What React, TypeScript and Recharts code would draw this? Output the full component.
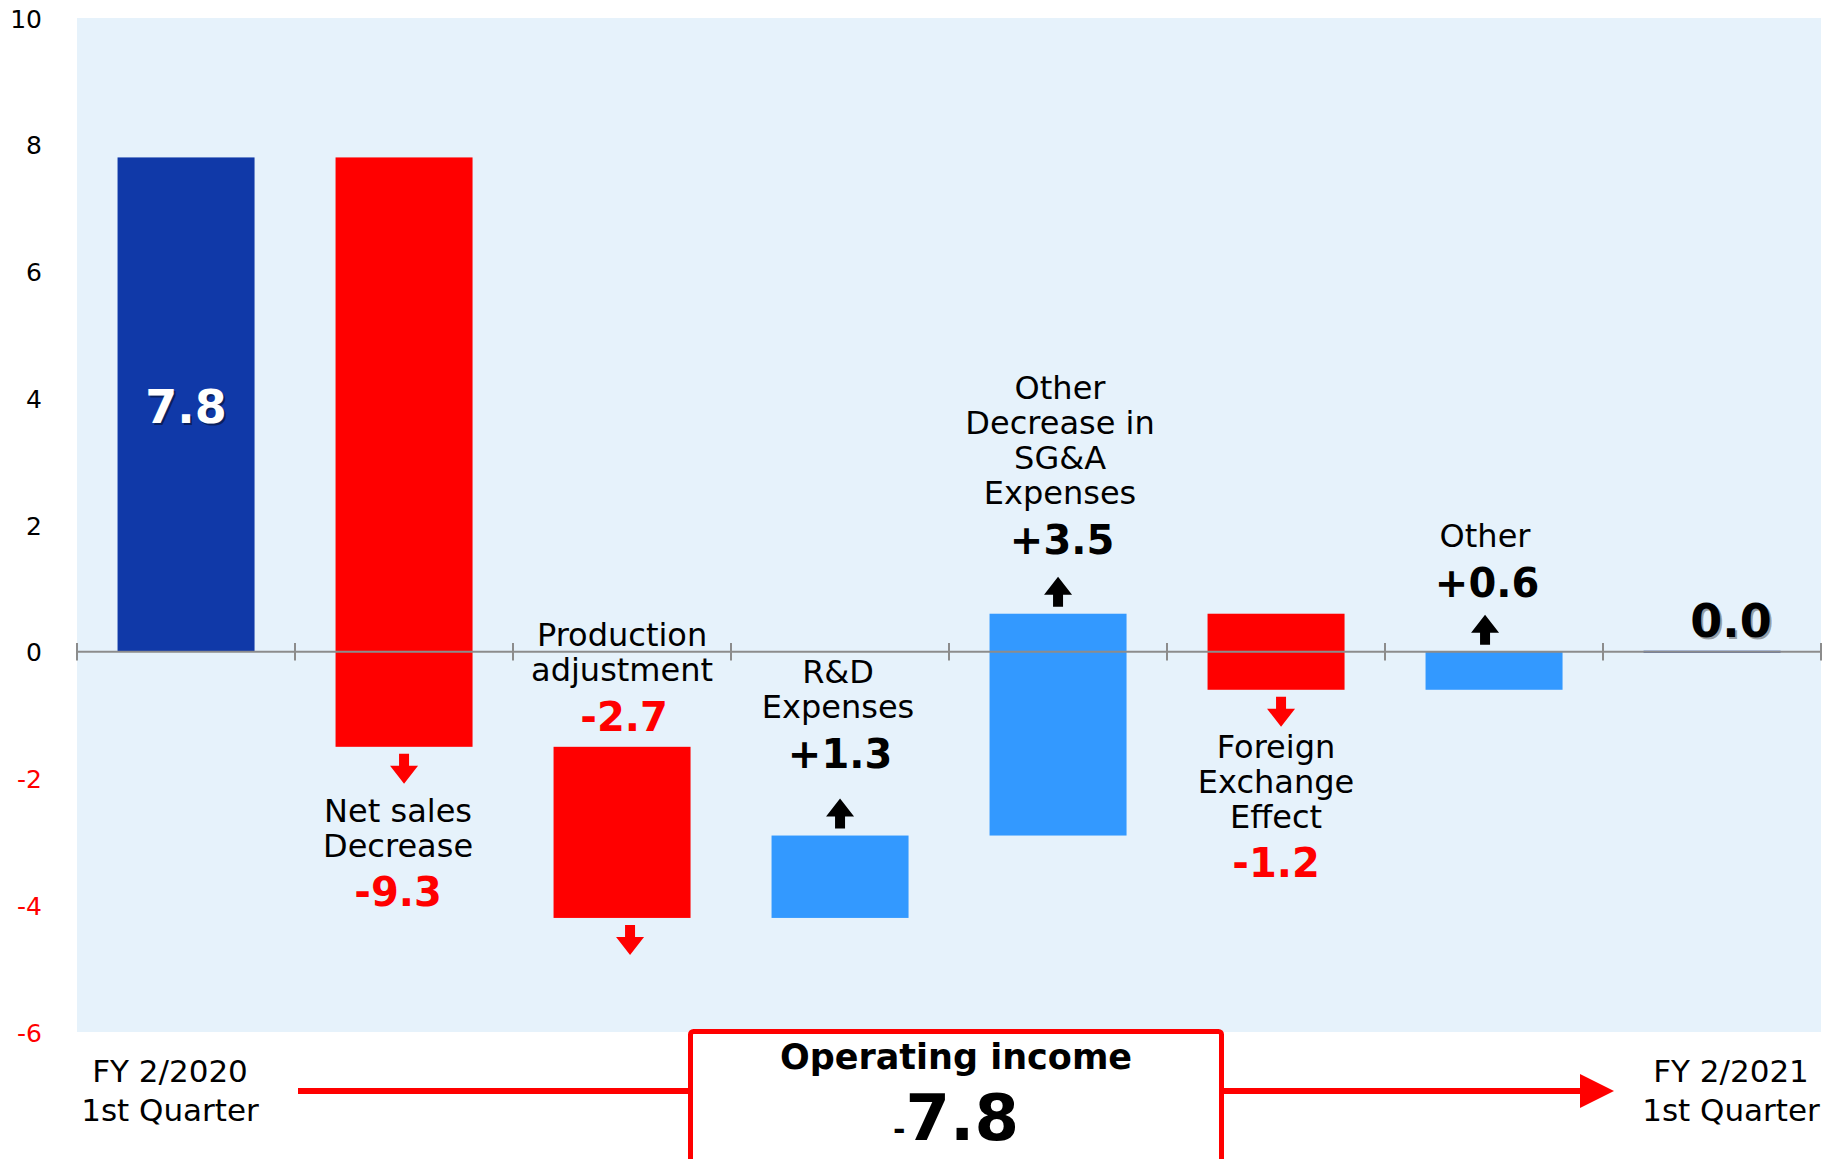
import {
  Bar,
  BarChart,
  CartesianGrid,
  Cell,
  LabelList,
  ReferenceLine,
  XAxis,
  YAxis,
} from "recharts";

// Chart data (billions of yen)
const categories = [
  "FY 2/2020 1st Quarter",
  "Net sales Decrease",
  "Production adjustment",
  "R&D Expenses",
  "Other Decrease in SG&A Expenses",
  "Foreign Exchange Effect",
  "Other",
  "FY 2/2021 1st Quarter",
];
const startValue = 7.8;
const changes = [-9.3, -2.7, 1.3, 3.5, -1.2, 0.6];
const endValue = 0.0;
const yTicks = [-6, -4, -2, 0, 2, 4, 6, 8, 10];

const labelLines = [
  [],
  ["Net sales", "Decrease"],
  ["Production", "adjustment"],
  ["R&D", "Expenses"],
  ["Other", "Decrease in", "SG&A", "Expenses"],
  ["Foreign", "Exchange", "Effect"],
  ["Other"],
  [],
];
const valueTexts = ["7.8", "-9.3", "-2.7", "+1.3", "+3.5", "-1.2", "+0.6", "0.0"];
const periodLabels = [
  ["FY 2/2020", "1st Quarter"],
  ["FY 2/2021", "1st Quarter"],
];

// Placement of the annotations (style only)
const textSide = ["", "below", "above", "above", "above", "below", "above", ""];
const arrowSide = ["", "below", "below", "above", "above", "below", "above", ""];
const textGap = [0, 64, 30, 82, 74, 57, 69, 0];
const labelDx = [0, -6, 0, -2, 2, 0, -9, 0];
const arrowDx = [0, 0, 8, 0, 0, 5, -9, 0];

const FONT = "'DejaVu Sans', Verdana, sans-serif";
const DARK_BLUE = "#1039A8";
const RED = "#FF0000";
const LIGHT_BLUE = "#3399FF";

// waterfall rows: each bar spans [low, high]
let running = startValue;
const chartData = categories.map((name, i) => {
  if (i === 0) return { name, range: [0, startValue], kind: "total" };
  if (i === categories.length - 1) return { name, range: [0, endValue], kind: "total" };
  const from = running;
  const to = running + changes[i - 1];
  running = to;
  return {
    name,
    range: [Math.min(from, to), Math.max(from, to)],
    kind: to < from ? "down" : "up",
  };
});

const colorOf = (kind: string) =>
  kind === "total" ? DARK_BLUE : kind === "down" ? RED : LIGHT_BLUE;

function Arrow({ cx, from, to, color }: { cx: number; from: number; to: number; color: string }) {
  // from = tail, to = tip
  const dir = to > from ? 1 : -1;
  const headH = 18;
  const headW = 14;
  const shaft = 5;
  const neck = to - dir * headH;
  const pts = [
    [cx - shaft, from],
    [cx + shaft, from],
    [cx + shaft, neck],
    [cx + headW, neck],
    [cx, to],
    [cx - headW, neck],
    [cx - shaft, neck],
  ]
    .map((p) => p.join(","))
    .join(" ");
  return <polygon points={pts} fill={color} />;
}

function renderAnnotation(props: any) {
  const vb = props.viewBox ?? props;
  const x = Number(vb.x ?? props.x);
  const y = Number(vb.y ?? props.y);
  const width = Number(vb.width ?? props.width);
  const height = Number(vb.height ?? props.height);
  const index = categories.indexOf(props.value);
  if (index < 0 || Number.isNaN(x)) return null;
  const cx = x + width / 2;
  const top = Math.min(y, y + height);
  const bottom = Math.max(y, y + height);
  const valueText = valueTexts[index];

  if (index === 0) {
    const cy = (top + bottom) / 2;
    return (
      <g fontFamily={FONT} fontWeight="bold" fontSize={46} textAnchor="middle" dominantBaseline="central">
        <text x={cx + 2} y={cy + 4} fill="rgba(0,0,0,0.45)">{valueText}</text>
        <text x={cx} y={cy + 2} fill="#FFFFFF">{valueText}</text>
      </g>
    );
  }
  if (index === categories.length - 1) {
    return (
      <g fontFamily={FONT} fontWeight="bold" fontSize={46} textAnchor="middle" dominantBaseline="central">
        <text x={cx + 21} y={top - 29} fill="rgba(0,0,0,0.35)">{valueText}</text>
        <text x={cx + 19} y={top - 31} fill="#000000">{valueText}</text>
      </g>
    );
  }

  const lines = labelLines[index];
  const negative = valueText.startsWith("-");
  const valueColor = negative ? RED : "#000000";
  const arrowColor = negative ? RED : "#000000";
  const tx = cx + labelDx[index];
  const ax = cx + arrowDx[index];
  const gap = textGap[index];
  const elems: any[] = [];

  if (arrowSide[index] === "below") {
    elems.push(<Arrow key="arr" cx={ax} from={bottom + 7} to={bottom + 37} color={arrowColor} />);
  } else {
    elems.push(<Arrow key="arr" cx={ax} from={top - 7} to={top - 37} color={arrowColor} />);
  }

  if (textSide[index] === "below") {
    lines.forEach((ln, k) => {
      elems.push(
        <text key={"l" + k} x={tx} y={bottom + gap + k * 35} fontSize={32} fill="#000" textAnchor="middle" dominantBaseline="central">
          {ln}
        </text>
      );
    });
    elems.push(
      <text key="v" x={tx} y={bottom + gap + (lines.length - 1) * 35 + 46} fontSize={40} fontWeight="bold" fill={valueColor} textAnchor="middle" dominantBaseline="central">
        {valueText}
      </text>
    );
  } else {
    const valueY = top - gap;
    elems.push(
      <text key="v" x={tx + 2} y={valueY} fontSize={40} fontWeight="bold" fill={valueColor} textAnchor="middle" dominantBaseline="central">
        {valueText}
      </text>
    );
    lines.forEach((ln, k) => {
      elems.push(
        <text key={"l" + k} x={tx} y={valueY - 47 - (lines.length - 1 - k) * 35} fontSize={32} fill="#000" textAnchor="middle" dominantBaseline="central">
          {ln}
        </text>
      );
    });
  }
  return <g fontFamily={FONT}>{elems}</g>;
}

function WaterfallBar(props: any) {
  const { x, y, width, height, fill } = props;
  const top = Math.min(y, y + height);
  const h = Math.max(Math.abs(height), 2);
  return <rect x={x} y={height === 0 ? y - 1 : top} width={width} height={h} fill={fill} />;
}

function renderYTick(p: any) {
  const v = p.payload.value;
  return (
    <text x={p.x} y={p.y + 1} textAnchor="end" dominantBaseline="central" fontSize={25} fontFamily={FONT} fill={v < 0 ? RED : "#000000"}>
      {v}
    </text>
  );
}

function renderXTick(p: any) {
  const i = p.index;
  const which = i === 0 ? 0 : i === categories.length - 1 ? 1 : -1;
  if (which < 0) return <g />;
  const dx = which === 0 ? -16 : 19;
  return (
    <g fontFamily={FONT} fontSize={31} fill="#000" textAnchor="middle">
      {periodLabels[which].map((ln, k) => (
        <text key={k} x={p.x + dx} y={p.y + 39 + k * 39} dominantBaseline="central">
          {ln}
        </text>
      ))}
    </g>
  );
}

const operatingIncomeChange = (endValue - startValue).toFixed(1);

export default function App() {
  return (
    <div style={{ position: "absolute", left: 0, top: 0, width: 1834, height: 1159, overflow: "hidden", background: "#fff", fontFamily: FONT }}>
      <BarChart
        width={1834}
        height={1159}
        data={chartData}
        margin={{ top: 18, right: 13, bottom: 0, left: 0 }}
        barCategoryGap="18.6%"
      >
        <CartesianGrid horizontal={false} vertical={false} fill="#E6F2FB" stroke="none" />
        <XAxis
          dataKey="name"
          height={127}
          axisLine={false}
          tickLine={false}
          tickSize={0}
          tickMargin={0}
          interval={0}
          tick={renderXTick}
        />
        <YAxis
          domain={[-6, 10]}
          ticks={yTicks}
          width={77}
          axisLine={false}
          tickLine={false}
          tickSize={0}
          tickMargin={35}
          interval={0}
          tick={renderYTick}
        />
        <ReferenceLine y={0} stroke="#8C8C8C" strokeWidth={2} />
        {categories.map((c) => (
          <ReferenceLine
            key={"t-" + c}
            segment={[{ x: c, y: -0.14 }, { x: c, y: 0.14 }]}
            position="start"
            stroke="#8C8C8C"
            strokeWidth={2}
          />
        ))}
        <ReferenceLine
          segment={[
            { x: categories[categories.length - 1], y: -0.14 },
            { x: categories[categories.length - 1], y: 0.14 },
          ]}
          position="end"
          stroke="#8C8C8C"
          strokeWidth={2}
        />
        <Bar dataKey="range" isAnimationActive={false} shape={WaterfallBar}>
          {chartData.map((d) => (
            <Cell key={d.name} fill={colorOf(d.kind)} />
          ))}
          <LabelList dataKey="name" content={renderAnnotation} />
        </Bar>
      </BarChart>
      <svg width={1834} height={1159} style={{ position: "absolute", left: 0, top: 0, pointerEvents: "none" }}>
        <line x1={298} y1={1091} x2={692} y2={1091} stroke={RED} strokeWidth={6} />
        <line x1={1220} y1={1091} x2={1582} y2={1091} stroke={RED} strokeWidth={6} />
        <polygon points="1580,1074 1614,1091 1580,1108" fill={RED} />
        <rect x={690.5} y={1031.5} width={531} height={200} rx={3} fill="#FFFFFF" stroke={RED} strokeWidth={5} />
        <text x={956} y={1057} textAnchor="middle" dominantBaseline="central" fontFamily={FONT} fontWeight="bold" fontSize={35} fill="#000">
          Operating income
        </text>
        <text x={956} y={1140} textAnchor="middle" fontFamily={FONT} fontWeight="bold" fill="#000">
          <tspan fontSize={30}>{operatingIncomeChange.slice(0, 1)}</tspan>
          <tspan fontSize={64}>{operatingIncomeChange.slice(1)}</tspan>
        </text>
      </svg>
    </div>
  );
}
